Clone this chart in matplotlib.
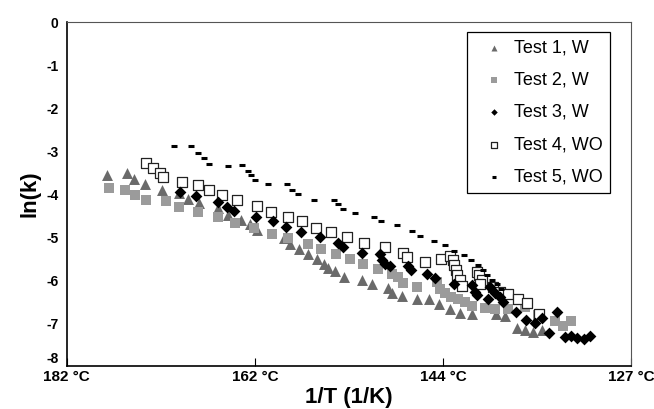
import matplotlib
matplotlib.use("Agg")
import matplotlib.pyplot as plt
import matplotlib.transforms as mtransforms
import numpy as np

plt.rcParams['font.family'] = ['Liberation Sans', 'DejaVu Sans']

# 1/T values in 1e-3 1/K, ln(k)
t1_x = [2.2215, 2.2321, 2.2356, 2.2414, 2.2505, 2.2598, 2.2646, 2.2704, 2.2804, 2.2859,
        2.2928, 2.2972, 2.3012, 2.3156, 2.3189, 2.3235, 2.3284, 2.3328, 2.3368, 2.3390,
        2.3424, 2.3475, 2.3572, 2.3623, 2.3709, 2.3727, 2.3784, 2.3864, 2.3926, 2.3979,
        2.4037, 2.4090, 2.4152, 2.4280, 2.4329, 2.4396, 2.4435, 2.4480, 2.4524]
t1_y = [-3.56, -3.52, -3.66, -3.76, -3.90, -3.98, -4.11, -4.21, -4.33, -4.49,
        -4.61, -4.69, -4.83, -5.03, -5.17, -5.28, -5.40, -5.52, -5.62, -5.71,
        -5.78, -5.93, -5.99, -6.10, -6.19, -6.31, -6.38, -6.45, -6.45, -6.55,
        -6.67, -6.76, -6.78, -6.79, -6.84, -7.11, -7.15, -7.20, -7.17]

t2_x = [2.2226, 2.2310, 2.2363, 2.2421, 2.2527, 2.2596, 2.2700, 2.2804, 2.2894, 2.2996,
        2.3089, 2.3178, 2.3280, 2.3351, 2.3432, 2.3506, 2.3576, 2.3656, 2.3727, 2.3762,
        2.3789, 2.3864, 2.3966, 2.3984, 2.4010, 2.4041, 2.4081, 2.4117, 2.4152, 2.4223,
        2.4276, 2.4347, 2.4435, 2.4506, 2.4595, 2.4639, 2.4683]
t2_y = [-3.85, -3.90, -4.02, -4.13, -4.16, -4.29, -4.42, -4.54, -4.67, -4.79,
        -4.92, -5.03, -5.17, -5.27, -5.40, -5.50, -5.62, -5.74, -5.86, -5.94,
        -6.07, -6.15, -6.05, -6.20, -6.31, -6.39, -6.43, -6.51, -6.61, -6.66,
        -6.68, -6.68, -6.62, -6.82, -6.96, -7.06, -6.95]

t3_x = [2.2602, 2.2686, 2.2806, 2.2850, 2.2890, 2.3005, 2.3098, 2.3165, 2.3244, 2.3346,
        2.3441, 2.3470, 2.3572, 2.3665, 2.3674, 2.3691, 2.3718, 2.3815, 2.3829, 2.3917,
        2.3957, 2.4061, 2.4152, 2.4170, 2.4183, 2.4241, 2.4249, 2.4276, 2.4303, 2.4320,
        2.4387, 2.4440, 2.4489, 2.4528, 2.4564, 2.4608, 2.4648, 2.4679, 2.4710, 2.4750,
        2.4781]
t3_y = [-3.96, -4.05, -4.18, -4.30, -4.40, -4.53, -4.63, -4.76, -4.88, -5.01,
        -5.13, -5.24, -5.36, -5.40, -5.54, -5.62, -5.68, -5.68, -5.76, -5.86,
        -5.96, -6.08, -6.12, -6.27, -6.35, -6.43, -6.16, -6.31, -6.39, -6.51,
        -6.74, -6.92, -7.01, -6.89, -7.23, -6.74, -7.32, -7.30, -7.34, -7.36,
        -7.30]

t4_x = [2.2421, 2.2461, 2.2496, 2.2514, 2.2611, 2.2700, 2.2757, 2.2824, 2.2903, 2.3010,
        2.3085, 2.3178, 2.3253, 2.3324, 2.3404, 2.3488, 2.3581, 2.3691, 2.3789, 2.3811,
        2.3904, 2.3988, 2.4037, 2.4055, 2.4059, 2.4068, 2.4077, 2.4090, 2.4099, 2.4179,
        2.4192, 2.4205, 2.4196, 2.4267, 2.4303, 2.4347, 2.4400, 2.4449, 2.4511]
t4_y = [-3.27, -3.39, -3.50, -3.60, -3.73, -3.78, -3.91, -4.03, -4.14, -4.28,
        -4.42, -4.53, -4.63, -4.78, -4.88, -5.01, -5.14, -5.24, -5.37, -5.46,
        -5.58, -5.50, -5.45, -5.54, -5.65, -5.77, -5.89, -6.00, -6.14, -5.81,
        -5.89, -5.99, -6.08, -6.16, -6.27, -6.33, -6.43, -6.53, -6.78]

t5_x = [2.2571, 2.2660, 2.2700, 2.2731, 2.2757, 2.2855, 2.2934, 2.2961, 2.2979, 2.3001,
        2.3072, 2.3173, 2.3200, 2.3231, 2.3315, 2.3421, 2.3441, 2.3466, 2.3532, 2.3634,
        2.3669, 2.3758, 2.3838, 2.3877, 2.3953, 2.4010, 2.4059, 2.4112, 2.4148, 2.4187,
        2.4214, 2.4232, 2.4258, 2.4285, 2.4311]
t5_y = [-2.88, -2.89, -3.04, -3.16, -3.29, -3.35, -3.33, -3.46, -3.56, -3.68,
        -3.77, -3.77, -3.90, -4.00, -4.13, -4.13, -4.24, -4.35, -4.44, -4.53,
        -4.62, -4.73, -4.86, -4.98, -5.09, -5.19, -5.32, -5.42, -5.54, -5.64,
        -5.77, -5.89, -5.99, -6.10, -6.20]

tick_pos = [2.2, 2.3, 2.4, 2.5]
tick_labels = ['182 °C', '162 °C', '144 °C', '127 °C']


def to_inv_k(vals):
    return np.array(vals) * 1e-3


fig = plt.figure(figsize=(6.54, 4.09), dpi=100)
ax = fig.add_axes([0.102, 0.105, 0.863, 0.841])

ax.scatter(to_inv_k(t1_x), t1_y, marker='^', s=62, color='#6a6a6a', linewidths=0, label='Test 1, W', zorder=3)
ax.scatter(to_inv_k(t2_x), t2_y, marker='s', s=58, color='#9b9b9b', linewidths=0, label='Test 2, W', zorder=3)
ax.scatter(to_inv_k(t3_x), t3_y, marker='D', s=36, color='black', linewidths=0, label='Test 3, W', zorder=4)
ax.scatter(to_inv_k(t4_x), t4_y, marker='s', s=50, facecolors='white', edgecolors='#222222',
           linewidths=0.9, label='Test 4, WO', zorder=3)
ax.scatter(to_inv_k(t5_x), t5_y, marker='_', s=24, color='black', linewidths=2.2, label='Test 5, WO', zorder=4)

ax.set_xlim(2.2e-3, 2.5e-3)
ax.set_ylim(-8, 0)
ax.set_xticks(to_inv_k(tick_pos))
ax.set_xticklabels(tick_labels, fontsize=11, fontweight='bold')
ax.set_yticks(np.arange(-8, 1, 1))
ax.set_yticklabels([str(v) for v in range(-8, 1)], fontsize=10, fontweight='bold')
ax.tick_params(axis='x', direction='in', length=6, width=0.8, pad=3)
ax.tick_params(axis='y', direction='in', length=0, pad=6)

# the "-8" label sits a little higher so it clears "182 °C"
lowest = ax.get_yticklabels()[0]
lowest.set_transform(lowest.get_transform() + mtransforms.ScaledTranslation(0, 6 / 72, fig.dpi_scale_trans))

for side in ['left', 'bottom']:
    ax.spines[side].set_linewidth(1.2)
    ax.spines[side].set_color('black')
for side in ['top', 'right']:
    ax.spines[side].set_linewidth(0.8)
    ax.spines[side].set_color('#555555')

ax.set_xlabel('1/T (1/K)', fontsize=16, fontweight='bold', labelpad=2)
ax.set_ylabel('ln(k)', fontsize=16, fontweight='bold', labelpad=4)

leg = ax.legend(loc='upper right', bbox_to_anchor=(0.963, 0.971), borderaxespad=0,
                fontsize=13, markerscale=0.55, handlelength=2.2, handletextpad=0.0,
                labelspacing=0.85, borderpad=0.4, fancybox=False, edgecolor='black',
                framealpha=1)
leg.get_frame().set_linewidth(0.9)

fig.savefig('out.png', dpi=100)
